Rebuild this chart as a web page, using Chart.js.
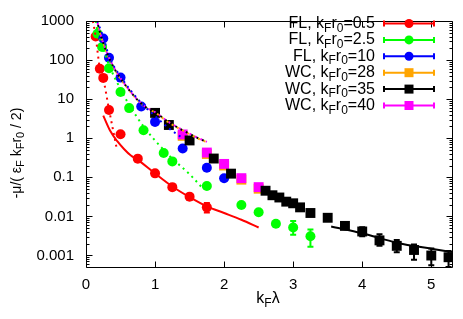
<!DOCTYPE html>
<html><head><meta charset="utf-8">
<script src="https://cdn.jsdelivr.net/npm/chart.js@4.4.0/dist/chart.umd.min.js"></script>
<style>html,body{margin:0;padding:0;background:#fff}#wrap{width:463px;height:319px}</style>
</head><body><div id="wrap"><canvas id="c" width="463" height="319"></canvas></div>
<script>
// ---------- data ----------
const xTicks = [0, 1, 2, 3, 4, 5];
const yTicks = [0.001, 0.01, 0.1, 1, 10, 100, 1000];
const yTickLabels = ['0.001', '0.01', '0.1', '1', '10', '100', '1000'];

// FL, kFr0=0.5 (red)
const redX = [0.14, 0.2, 0.25, 0.333, 0.5, 0.75, 1.0, 1.25, 1.5, 1.75];
const redY = [400, 60, 35, 5.3, 1.27, 0.3, 0.126, 0.056, 0.032, 0.017];
const redLo = [null, null, null, null, null, null, null, null, null, 0.0125];
const redHi = [null, null, null, null, null, null, null, null, null, 0.022];
const redDotX = [0.1, 0.14, 0.2, 0.25, 0.333, 0.44];
const redDotY = [1000, 400, 62, 33, 5.5, 0.6];
const redLineX = [0.25, 0.35, 0.45, 0.55, 0.65, 0.75, 1.0, 1.25, 1.5, 1.75, 2.0, 2.25, 2.5];
const redLineY = [3.8, 1.55, 0.85, 0.53, 0.36, 0.28, 0.125, 0.058, 0.031, 0.018, 0.0122, 0.0082, 0.0052];

// FL, kFr0=2.5 (green)
const greenX = [0.167, 0.233, 0.333, 0.5, 0.625, 0.833, 1.125, 1.25, 1.75, 2.25, 2.5, 2.75, 3.0, 3.25];
const greenY = [470, 215, 62, 15.2, 5.9, 1.6, 0.42, 0.255, 0.060, 0.0196, 0.0127, 0.0065, 0.0052, 0.0031];
const greenLo = [null, null, null, null, null, null, null, null, null, null, null, null, 0.0034, 0.00166];
const greenHi = [null, null, null, null, null, null, null, null, null, null, null, null, 0.0076, 0.0046];
const greenDotX = [0.14, 0.167, 0.233, 0.333, 0.5, 0.625, 0.833, 1.125, 1.25, 1.5, 1.7];
const greenDotY = [1000, 550, 240, 75, 18, 7.2, 2.0, 0.5, 0.3, 0.12, 0.05];

// FL, kFr0=10 (blue)
const blueX = [0.25, 0.333, 0.5, 0.8, 1.0, 1.4, 1.75, 2.0];
const blueY = [358, 115, 35.6, 6.45, 2.62, 0.547, 0.175, 0.095];
const blueDotX = [0.16, 0.25, 0.333, 0.5, 0.8, 1.0, 1.2, 1.4];
const blueDotY = [1000, 390, 125, 38, 8.0, 3.7, 1.8, 1.0];

// WC curves (dotted)
const wcDotX = [0.16, 0.2, 0.25, 0.316, 0.4, 0.46, 0.6, 0.727, 0.85, 1.017, 1.2, 1.4, 1.6, 1.75];
const orangeDotY = [1000, 525, 268, 133, 65, 42.5, 19.3, 10.3, 6.4, 4.35, 2.5, 1.58, 1.03, 0.79];
const blackDotY = [1000, 530, 270, 134, 66, 43, 19.5, 10.4, 6.5, 4.4, 2.55, 1.6, 1.05, 0.8];
const magentaDotY = [1000, 535, 272, 135, 67, 43.5, 19.7, 10.5, 6.6, 4.45, 2.58, 1.62, 1.06, 0.81];

// WC, kFr0=28 (orange)
const orangeX = [1.4, 1.75, 2.0, 2.25, 2.5];
const orangeY = [1.15, 0.395, 0.2, 0.087, 0.051];
// WC, kFr0=40 (magenta)
const magentaX = [1.4, 1.75, 2.0, 2.25, 2.5];
const magentaY = [1.25, 0.43, 0.22, 0.095, 0.056];
// WC, kFr0=35 (black)
const blackX = [1.0, 1.2, 1.5, 1.85, 2.1, 2.6, 2.7, 2.8, 2.9, 3.0, 3.1, 3.25, 3.5, 3.75, 4.0, 4.25, 4.5, 4.75, 5.0, 5.25];
const blackY = [4.45, 2.18, 0.877, 0.302, 0.124, 0.0453, 0.0347, 0.0304, 0.0238, 0.0216, 0.017, 0.0122, 0.0092, 0.0057, 0.0041, 0.00243, 0.00176, 0.00138, 0.000995, 0.0009];
const blackLo = [null, null, null, null, null, null, null, null, null, null, null, null, null, null, 0.0031, 0.00176, 0.0012, 0.00078, 0.00056, 0.00048];
const blackHi = [null, null, null, null, null, null, null, null, null, null, null, null, null, null, 0.0053, 0.0035, 0.0025, 0.0019, 0.0015, 0.0013];
const blackLineX = [3.55, 4.0, 4.5, 5.0, 5.3];
const blackLineY = [0.0055, 0.0037, 0.00212, 0.00148, 0.00122];

const legendLabels = [
  {pre: 'FL, k', mid: 'r', val: '=0.5', color: '#ff0000', shape: 'circle'},
  {pre: 'FL, k', mid: 'r', val: '=2.5', color: '#00ff00', shape: 'circle'},
  {pre: 'FL, k', mid: 'r', val: '=10', color: '#0000ff', shape: 'circle'},
  {pre: 'WC, k', mid: 'r', val: '=28', color: '#ffa500', shape: 'rect'},
  {pre: 'WC, k', mid: 'r', val: '=35', color: '#000000', shape: 'rect'},
  {pre: 'WC, k', mid: 'r', val: '=40', color: '#ff00ff', shape: 'rect'}
];

// ---------- chart ----------
const FONT = '"Liberation Sans", Arial, Helvetica, sans-serif';
const pts = (xs, ys) => xs.map((x, i) => ({x: x, y: ys[i]}));

function lineDs(xs, ys, color, dotted, order, offset) {
  return {type: 'line', data: pts(xs, ys), borderColor: color, borderWidth: 2,
    borderDash: dotted ? [2, 4] : [], borderDashOffset: offset || 0,
    pointRadius: 0, fill: false, cubicInterpolationMode: 'monotone', order: order};
}
function pointDs(xs, ys, color, shape, order, lo, hi) {
  return {type: 'scatter', data: pts(xs, ys), showLine: false, backgroundColor: color,
    borderColor: color, borderWidth: 0, pointStyle: shape, pointRadius: shape === 'rect' ? 7 : 5,
    pointHoverRadius: 0, order: order, errLo: lo, errHi: hi};
}

const datasets = [
  lineDs(redDotX, redDotY, '#ff0000', true, 1),
  lineDs(greenDotX, greenDotY, '#00ff00', true, 1),
  lineDs(blueDotX, blueDotY, '#0000ff', true, 1),
  lineDs(wcDotX, orangeDotY, '#ffa500', true, 1, 0),
  lineDs(wcDotX, blackDotY, '#000000', true, 1, 2),
  lineDs(wcDotX, magentaDotY, '#ff00ff', true, 1, 4),
  lineDs(redLineX, redLineY, '#ff0000', false, 2),
  lineDs(blackLineX, blackLineY, '#000000', false, 2),
  pointDs(redX, redY, '#ff0000', 'circle', 8, redLo, redHi),
  pointDs(greenX, greenY, '#00ff00', 'circle', 7, greenLo, greenHi),
  pointDs(blueX, blueY, '#0000ff', 'circle', 6, null, null),
  pointDs(orangeX, orangeY, '#ffa500', 'rect', 5, null, null),
  pointDs(magentaX, magentaY, '#ff00ff', 'rect', 4, null, null),
  pointDs(blackX, blackY, '#000000', 'rect', 3, blackLo, blackHi)
];

function richText(ctx, parts, x, y, align, size, subSize) {
  const sub = subSize || Math.round(size * 0.75);
  let w = 0;
  parts.forEach(p => { ctx.font = (p[1] ? sub : size) + 'px ' + FONT; w += ctx.measureText(p[0]).width; });
  let cx = align === 'right' ? x - w : (align === 'center' ? x - w / 2 : x);
  ctx.textBaseline = 'middle';
  ctx.textAlign = 'left';
  parts.forEach(p => {
    ctx.font = (p[1] ? sub : size) + 'px ' + FONT;
    ctx.fillText(p[0], cx, p[1] ? y + size * 0.3 : y);
    cx += ctx.measureText(p[0]).width;
  });
}

const decor = {
  id: 'decor',
  afterDatasetsDraw(chart) {
    const ctx = chart.ctx, xs = chart.scales.x, ys = chart.scales.y;
    ctx.save();
    chart.data.datasets.forEach(ds => {
      if (!ds.errLo) return;
      ctx.strokeStyle = ds.borderColor; ctx.lineWidth = 2;
      ds.data.forEach((p, i) => {
        if (ds.errLo[i] == null) return;
        const px = xs.getPixelForValue(p.x);
        const y1 = Math.min(ys.getPixelForValue(ds.errLo[i]), ys.bottom);
        const y2 = ys.getPixelForValue(ds.errHi[i]);
        ctx.beginPath();
        ctx.moveTo(px, y1); ctx.lineTo(px, y2);
        ctx.moveTo(px - 3, y1); ctx.lineTo(px + 3, y1);
        ctx.moveTo(px - 3, y2); ctx.lineTo(px + 3, y2);
        ctx.stroke();
      });
    });
    ctx.restore();
  },
  afterDraw(chart) {
    const ctx = chart.ctx, xs = chart.scales.x, ys = chart.scales.y;
    const a = chart.chartArea;
    const L = Math.round(a.left) + 0.5, R = Math.round(a.right) + 0.5;
    const T = Math.round(a.top) + 0.5, B = Math.round(a.bottom) + 0.5;
    ctx.save();
    ctx.strokeStyle = '#000'; ctx.lineWidth = 1;
    ctx.beginPath();
    ctx.rect(L, T, R - L, B - T);
    xTicks.forEach(v => {
      const px = Math.round(xs.getPixelForValue(v)) + 0.5;
      ctx.moveTo(px, B); ctx.lineTo(px, B - 6);
      ctx.moveTo(px, T); ctx.lineTo(px, T + 6);
    });
    for (let e = -4; e <= 3; e++) {
      for (let m = 1; m <= 9; m++) {
        const v = m * Math.pow(10, e);
        if (v < ys.min || v > ys.max * 1.0001) continue;
        const py = Math.round(ys.getPixelForValue(v)) + 0.5;
        const len = m === 1 ? 6 : 3;
        ctx.moveTo(L, py); ctx.lineTo(L + len, py);
        ctx.moveTo(R, py); ctx.lineTo(R - len, py);
      }
    }
    ctx.stroke();

    // legend
    const rowY0 = 23.5, rowDy = 16.4, textR = 375, lx1 = 384, lx2 = 434, mx = 409;
    legendLabels.forEach((lg, i) => {
      const y = rowY0 + i * rowDy;
      ctx.fillStyle = '#000';
      richText(ctx, [[lg.pre, false], ['F', true], [lg.mid, false], ['0', true], [lg.val, false]], textR, y, 'right', 16, 12);
      ctx.strokeStyle = lg.color; ctx.lineWidth = 2;
      ctx.beginPath();
      ctx.moveTo(lx1, y); ctx.lineTo(lx2, y);
      ctx.moveTo(lx1, y - 3); ctx.lineTo(lx1, y + 3);
      ctx.moveTo(lx2, y - 3); ctx.lineTo(lx2, y + 3);
      ctx.stroke();
      ctx.fillStyle = lg.color;
      ctx.beginPath();
      if (lg.shape === 'circle') ctx.arc(mx, y, 4.5, 0, Math.PI * 2);
      else ctx.rect(mx - 4.5, y - 4.5, 9, 9);
      ctx.fill();
    });

    // axis titles
    ctx.fillStyle = '#000';
    richText(ctx, [['k', false], ['F', true], ['\u03bb', false]], 268, 299, 'center', 16, 12);
    ctx.save();
    ctx.translate(17, 153);
    ctx.rotate(-Math.PI / 2);
    richText(ctx, [['-\u03bc/( \u03b5', false], ['F', true], [' k', false], ['F', true], ['r', false], ['0', true], [' / 2)', false]], 0, 0, 'center', 14, 11);
    ctx.restore();
    ctx.restore();
  }
};

new Chart(document.getElementById('c'), {
  type: 'scatter',
  data: {datasets: datasets},
  options: {
    responsive: false, animation: false, devicePixelRatio: 1,
    layout: {padding: {left: 0, right: 11, top: 12, bottom: 0}},
    plugins: {legend: {display: false}, tooltip: {enabled: false}},
    scales: {
      x: {type: 'linear', min: 0, max: 5.3,
        afterBuildTicks: s => { s.ticks = xTicks.map(v => ({value: v})); },
        afterFit: s => { s.height = 52; },
        grid: {display: false, drawTicks: false}, border: {display: false},
        ticks: {color: '#000', padding: 9, font: {family: FONT, size: 15}, maxRotation: 0, callback: v => String(v)}},
      y: {type: 'logarithmic', min: 0.000506, max: 1000,
        afterBuildTicks: s => { s.ticks = yTicks.map(v => ({value: v})); },
        afterFit: s => { s.width = 86; },
        grid: {display: false, drawTicks: false}, border: {display: false},
        ticks: {color: '#000', padding: 12, font: {family: FONT, size: 15},
          callback: (v) => { const i = yTicks.findIndex(t => Math.abs(t - v) / t < 1e-6); return i >= 0 ? yTickLabels[i] : ''; }}}
    }
  },
  plugins: [decor]
});
</script></body></html>
